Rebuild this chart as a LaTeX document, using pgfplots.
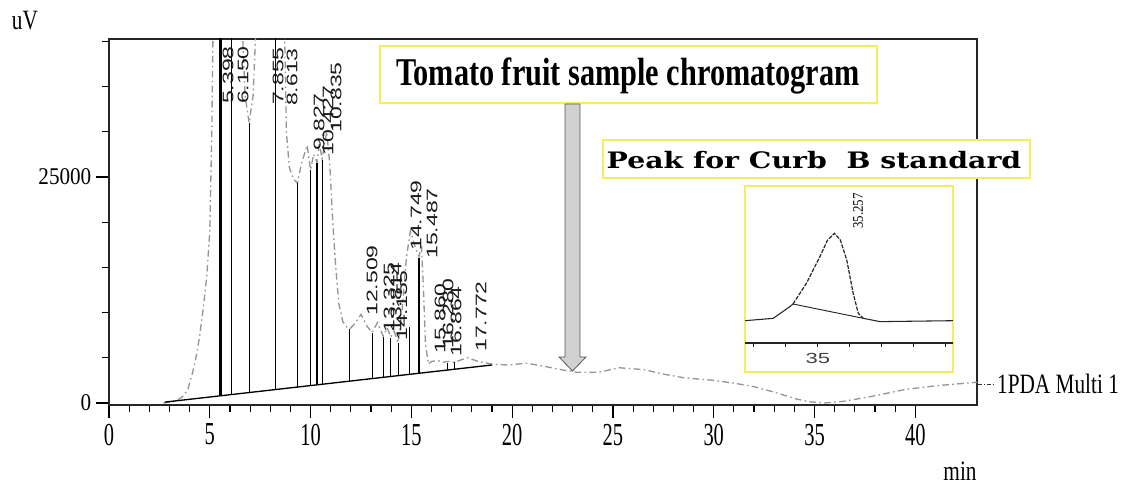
\documentclass[border=0pt]{standalone}
\usepackage{pgfplots}
\pgfplotsset{compat=1.18}
\usepackage{pgfplotstable}
\usepackage{fontspec}
\setmainfont{Liberation Serif}
\newfontfamily\tickfont[FakeStretch=0.88]{Liberation Serif}
\newfontfamily\xtickfont[FakeStretch=0.64]{Liberation Serif}
\newfontfamily\labelfont[FakeStretch=0.76]{Liberation Serif}
\newfontfamily\titlefont[FakeStretch=0.77]{Liberation Serif}
\newfontfamily\boxfont[FakeStretch=1.25]{DejaVu Serif}
\newfontfamily\rtfont[FakeStretch=1.5]{Liberation Sans}

\definecolor{boxyellow}{RGB}{246,236,96}
\definecolor{tracegray}{RGB}{150,150,150}

% PDA signal (uV) against retention time (min)
\pgfplotstableread{
t     uv
2.70  0
3.20  150
3.60  600
3.90  1400
4.15  3400
4.35  5400
4.50  7500
4.65  10000
4.85  14000
5.00  19000
5.10  30000
5.18  45000
5.40  80000
6.00  60000
6.15  70000
6.55  45000
6.75  34000
6.95  31000
7.15  34000
7.35  45000
7.86  90000
8.27  60000
8.61  70000
8.72  40000
8.80  30000
8.95  26000
9.15  24800
9.35  24300
9.55  26500
9.83  28500
10.00 25800
10.15 27500
10.32 26600
10.43 28800
10.57 27000
10.80 30000
10.95 26500
11.10 20000
11.25 15000
11.40 11000
11.60 9000
11.80 8400
11.95 8200
12.20 8800
12.50 9800
12.80 8500
13.05 7800
13.32 8900
13.60 7400
13.81 8300
13.97 7300
14.15 7900
14.34 6700
14.55 10500
14.75 16000
14.95 19000
15.20 17200
15.38 16200
15.50 17500
15.60 12500
15.70 6500
15.85 4300
16.00 4600
16.30 4700
16.55 4500
16.85 4600
17.15 4500
17.50 4800
17.80 5000
18.30 4600
19.00 4300
19.80 4200
20.70 4400
21.50 4100
22.40 3700
23.20 3400
24.30 3400
25.30 3900
26.50 3700
27.50 3200
28.50 2800
30.00 2500
31.00 2200
32.00 1800
33.00 1200
34.00 500
34.70 150
35.50 0
36.50 200
38.00 800
39.50 1500
41.00 1900
43.06 2300
}\trace

% integration baseline
\pgfplotstableread{
t     uv
2.77  100
19.00 4206
}\baseline

% drop lines from the baseline to the peak boundaries
\pgfplotstableread{
t     uv
6.07  935
6.07  45000
nan   nan
6.95  1158
6.95  31000
nan   nan
8.27  1492
8.27  45000
nan   nan
9.35  1765
9.35  24300
nan   nan
10.00 1929
10.00 25800
nan   nan
10.32 2010
10.32 26500
nan   nan
10.57 2073
10.57 26900
nan   nan
11.95 2423
11.95 8200
nan   nan
13.05 2701
13.05 7700
nan   nan
13.60 2840
13.60 7300
nan   nan
13.97 2934
13.97 7200
nan   nan
14.34 3027
14.34 6600
nan   nan
14.89 3166
14.89 8400
nan   nan
15.38 3290
15.38 16000
nan   nan
16.80 3650
16.80 4400
nan   nan
17.15 3738
17.15 4500
}\drops

% Curb B standard, detail around 35 min
\pgfplotstableread{
t      s
33.86  14.3
34.30  15.8
34.56  23.3
34.61  25.0
}\stdleft
\pgfplotstableread{
t      s
34.61  25.0
34.82  38.3
35.03  55.3
35.15  66.0
35.257 70.3
35.35  66.0
35.45  53.2
35.55  31.9
35.63  19.0
35.71  15.8
}\stdpeak
\pgfplotstableread{
t      s
35.71  15.8
35.97  13.7
37.11  14.3
}\stdright
\pgfplotstableread{
t      s
34.61  25.0
35.71  15.8
}\stdbase

\begin{document}
\begin{tikzpicture}
\begin{scope}[x=0.75pt,y=-0.75pt]
  \path[use as bounding box] (0,0) rectangle (1129,488);
\end{scope}

\begin{axis}[
  at={(81.75pt,-303.75pt)}, anchor=south west,
  scale only axis, width=651pt, height=274.5pt,
  xmin=0, xmax=43.06, ymin=-220, ymax=40260,
  xtick={0,5,...,40}, minor x tick num=4,
  ytick={0,25000},
  minor ytick={5000,10000,15000,20000,30000,35000,40000},
  tick align=outside, tick pos=left,
  major tick length=9.75pt, minor tick length=5.25pt,
  tick style={black, line width=0.9pt},
  axis line style={black!85, line width=1.1pt},
  yticklabel style={font=\tickfont\fontsize{18}{20}\selectfont},
  xticklabel style={font=\xtickfont\fontsize{24}{26}\selectfont, yshift=-1pt},
  /pgf/number format/assume math mode=true,
  /pgf/number format/1000 sep={},
  scaled y ticks=false,
  unbounded coords=jump,
  legend style={at={(1,0.055)}, anchor=west, draw=none, fill=none,
    font=\labelfont\fontsize{21}{23}\selectfont, inner sep=0pt,
    /tikz/every even column/.append style={column sep=0pt}},
  legend image code/.code={\draw[black!80, line width=0.9pt,
    dash pattern=on 3pt off 1.5pt on 1pt off 1.5pt] (0pt,0pt) -- (12pt,0pt);},
]
  \addplot[tracegray, line width=1pt,
    dash pattern=on 5pt off 2.5pt on 1.2pt off 2.5pt] table[x=t,y=uv] {\trace};
  \addlegendentry{1PDA Multi 1}
  \addplot[black, line width=1pt, forget plot] table[x=t,y=uv] {\baseline};
  \addplot[black, line width=0.8pt, forget plot] table[x=t,y=uv] {\drops};
  \addplot[black, line width=1.7pt, forget plot] coordinates {(5.53,798) (5.53,45000)};
\end{axis}

\begin{scope}[x=0.75pt,y=-0.75pt]
  % axis titles
  \node[font=\labelfont\fontsize{21}{23}\selectfont] at (25,21) {uV};
  \node[font=\labelfont\fontsize{21}{23}\selectfont] at (960,471) {min};

  % retention times
  \begin{scope}[every node/.style={rotate=90, anchor=east, inner sep=0pt,
      font=\rtfont\fontsize{11.5}{12}\selectfont, text=black!90}]
    \node at (228,46) {5.398};
    \node at (243,46) {6.150};
    \node at (278,47) {7.855};
    \node at (292,48) {8.613};
    \node at (319,93) {9.827};
    \node at (328,85) {10.427};
    \node at (336,62) {10.835};
    \node at (372,245) {12.509};
    \node at (389,262) {13.325};
    \node at (396,262) {13.814};
    \node at (402,270) {14.155};
    \node at (416,180) {14.749};
    \node at (432,188) {15.487};
    \node at (440,283) {15.860};
    \node at (448,278) {16.280};
    \node at (456,286) {16.864};
    \node at (481,281) {17.772};
  \end{scope}

  % title box and arrow
  \draw[boxyellow, line width=1.5pt, fill=white] (380,46) rectangle (877,103);
  \node[font=\titlefont\bfseries\fontsize{29.5}{32}\selectfont] at (628,76)
    {Tomato fruit sample chromatogram};
  \draw[fill=black!18, draw=black!65, line width=0.6pt]
    (565,104) -- (580,104) -- (580,357) -- (586,357) -- (572.5,371)
    -- (559,357) -- (565,357) -- cycle;

  % standard box and inset frame
  \draw[boxyellow, line width=1.5pt, fill=white] (603,140) rectangle (1030,178);
  \node[font=\boxfont\bfseries\fontsize{17}{19}\selectfont] at (814,160)
    {Peak for Curb\ \ B standard};
  \draw[boxyellow, line width=1.5pt, fill=white] (745,186) rectangle (953,372);
  \node[rotate=90, anchor=east, inner sep=0pt,
    font=\tickfont\fontsize{11}{12}\selectfont] at (858,193) {35.257};
\end{scope}

\begin{axis}[
  at={(558.75pt,-257.25pt)}, anchor=south west,
  scale only axis, width=156pt, height=117pt,
  xmin=33.86, xmax=37.11, ymin=0, ymax=100,
  axis x line=bottom, axis y line=none,
  axis line style={-, black!85, line width=0.8pt},
  xtick={34,34.5,35,35.5,36,36.5,37},
  xticklabels={,,35,,,,},
  tick align=outside, major tick length=3pt,
  tick style={black, line width=0.7pt},
  xticklabel style={font=\rtfont\fontsize{11}{12}\selectfont, text=black!75, yshift=-1pt},
  /pgf/number format/assume math mode=true,
]
  \addplot[black!85, line width=0.8pt] table[x=t,y=s] {\stdleft};
  \addplot[black!85, line width=0.9pt, dash pattern=on 3pt off 1pt] table[x=t,y=s] {\stdpeak};
  \addplot[black!85, line width=0.8pt] table[x=t,y=s] {\stdright};
  \addplot[black!85, line width=0.7pt] table[x=t,y=s] {\stdbase};
\end{axis}
\end{tikzpicture}
\end{document}
